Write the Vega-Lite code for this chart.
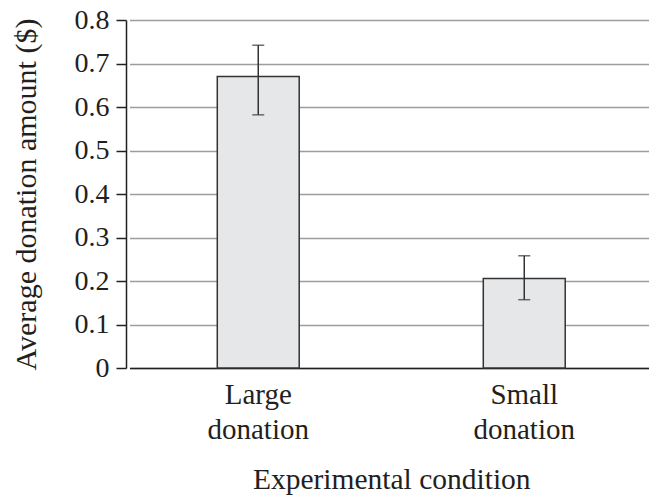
{
  "$schema": "https://vega.github.io/schema/vega-lite/v6.json",
  "width": 523,
  "height": 348,
  "autosize": {"type": "none"},
  "padding": {"left": 126, "top": 20, "right": 0, "bottom": 129},
  "config": {"font": "Liberation Serif", "view": {"stroke": null}},
  "data": {
    "values": [
      {"condition": "Large donation", "mean": 0.67, "lo": 0.582, "hi": 0.742},
      {"condition": "Small donation", "mean": 0.206, "lo": 0.157, "hi": 0.258}
    ]
  },
  "encoding": {
    "x": {
      "field": "condition",
      "type": "nominal",
      "sort": null,
      "scale": {"paddingInner": 0.692, "paddingOuter": 0.33, "range": [3.5, 527]},
      "axis": {
        "title": "Experimental condition",
        "labelExpr": "split(datum.label, ' ')",
        "labelAngle": 0,
        "labelFont": "Liberation Serif",
        "titleFont": "Liberation Serif",
        "labelFontSize": 29,
        "labelColor": "#231f20",
        "labelLineHeight": 35,
        "labelPadding": 12,
        "ticks": false,
        "domainColor": "#231f20",
        "domainWidth": 1.5,
        "titleFontSize": 29.5,
        "titleFontWeight": "normal",
        "titleColor": "#231f20",
        "titleBaseline": "alphabetic",
        "titleY": 120
      }
    }
  },
  "layer": [
    {
      "mark": {"type": "bar", "fill": "#e6e7e9", "stroke": "#333333", "strokeWidth": 1.5},
      "encoding": {
        "y": {
          "field": "mean",
          "type": "quantitative",
          "scale": {"domain": [0, 0.8]},
          "axis": {
            "title": "Average donation amount ($)",
            "values": [0, 0.1, 0.2, 0.3, 0.4, 0.5, 0.6, 0.7, 0.8],
            "format": "~g",
            "labelFont": "Liberation Serif",
            "titleFont": "Liberation Serif",
            "labelFontSize": 28,
            "labelColor": "#231f20",
            "labelPadding": 7,
            "tickSize": 10,
            "tickColor": "#231f20",
            "tickWidth": 1.5,
            "domainColor": "#231f20",
            "domainWidth": 1.5,
            "grid": true,
            "gridColor": "#9d9d9d",
            "gridWidth": 1.5,
            "titleFontSize": 30,
            "titleFontWeight": "normal",
            "titleColor": "#231f20",
            "titleBaseline": "alphabetic",
            "titleX": -91
          }
        }
      }
    },
    {
      "mark": {"type": "rule", "color": "#333333", "strokeWidth": 1.5},
      "encoding": {
        "y": {"field": "lo", "type": "quantitative"},
        "y2": {"field": "hi"}
      }
    },
    {
      "mark": {"type": "tick", "color": "#333333", "thickness": 1.5, "size": 12},
      "encoding": {"y": {"field": "lo", "type": "quantitative"}}
    },
    {
      "mark": {"type": "tick", "color": "#333333", "thickness": 1.5, "size": 12},
      "encoding": {"y": {"field": "hi", "type": "quantitative"}}
    }
  ]
}
